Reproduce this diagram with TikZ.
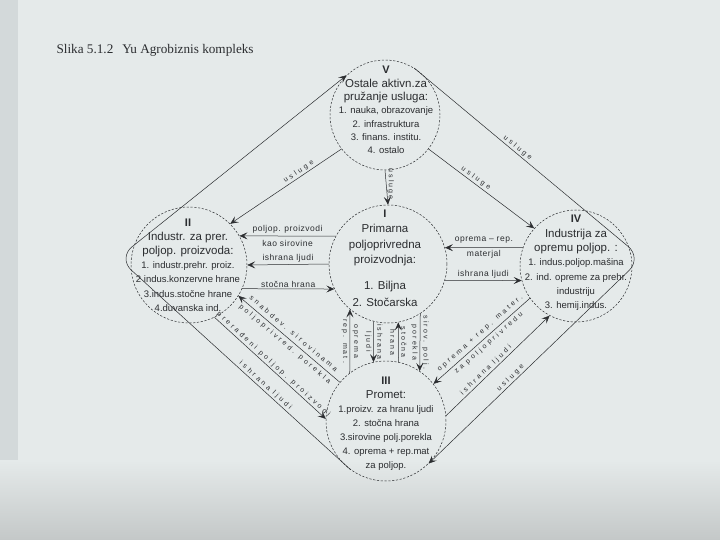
\documentclass[tikz,border=0pt]{standalone}
\usepackage{fontspec}
\setmainfont{Liberation Sans}
\newfontfamily\titlefont{Liberation Serif}
\newfontfamily\lblfont[LetterSpace=6]{Liberation Sans}
\newfontfamily\dfont[LetterSpace=40]{Liberation Sans}
\newfontfamily\vfont[LetterSpace=30]{Liberation Sans}
\newcommand\chead{\fontsize{11.5}{13}\selectfont}
\newcommand\rnum{\bfseries\fontsize{11}{13}\selectfont}
\usetikzlibrary{arrows.meta}
\definecolor{paper}{HTML}{E5EAEA}
\definecolor{paperdark}{HTML}{C4C8C8}
\definecolor{strip}{HTML}{D3D9DA}
\definecolor{ink}{HTML}{2B2D30}
\begin{document}
\begin{tikzpicture}[x=1pt,y=-1pt,
  circ/.style={circle, draw=ink, line width=0.5pt, dash pattern=on 2.2pt off 1.6pt, minimum size=#1, inner sep=0pt},
  conn/.style={draw=ink, line width=0.5pt},
  arr/.style={-{Stealth[length=8pt,width=7pt,inset=3.5pt]}},
  ctext/.style={align=center, text=ink, font=\fontsize{9.5}{#1}\selectfont, inner sep=0pt},
  hlbl/.style={text=ink, font=\lblfont\fontsize{8.5}{15}\selectfont, align=center, inner sep=1.5pt},
  dlbl/.style={text=ink, font=\dfont\fontsize{7}{13}\selectfont, align=center, sloped, inner sep=1.5pt},
  vlbl/.style={text=ink, font=\vfont\fontsize{7}{11}\selectfont, align=center, rotate=-90, inner sep=1pt},
]
\useasboundingbox (0,0) rectangle (720,540);
\fill[paper] (0,0) rectangle (720,540);
\fill[strip] (0,0) rectangle (18,540);
\shade[top color=paper, bottom color=paperdark] (0,460) rectangle (720,540);

\node[anchor=west, text=ink, font=\titlefont\fontsize{13.2}{15}\selectfont] (title) at (53,50) {Slika 5.1.2\hspace{9pt}Yu Agrobiznis kompleks};

% circles
\node[circ=110pt] (V) at (385,115) {};
\node[circ=116pt] (II) at (189,265) {};
\node[circ=118pt] (I) at (388,264) {};
\node[circ=112pt] (IV) at (576,266) {};
\node[circ=120pt] (III) at (386,421) {};

% circle texts
\node[ctext=13.3] (Vt) at (386,110) {{\rnum V}\\{\chead Ostale aktivn.za}\\{\chead pružanje usluga:}\\1. nauka, obrazovanje\\2. infrastruktura\\3. finans. institu.\\4. ostalo};
\node[ctext=14.2] (IIt) at (188,265) {{\rnum II}\\{\chead Industr. za prer.}\\{\chead poljop. proizvoda:}\\1. industr.prehr. proiz.\\2 indus.konzervne hrane\\3.indus.stočne hrane\\4.duvanska ind.};
\node[ctext=15.5] (It) at (385,258) {{\rnum I}\\{\chead Primarna}\\{\chead poljoprivredna}\\{\chead proizvodnja:}\\[10pt]{\chead 1. Biljna}\\[1.5pt]{\chead 2. Stočarska}};
\node[ctext=14.3] (IVt) at (576,263) {{\rnum IV}\\{\chead Industrija za}\\{\chead opremu poljop. :}\\1. indus.poljop.mašina\\2. ind. opreme za prehr.\\industriju\\3. hemij.indus.};
\node[ctext=14] (IIIt) at (386,424) {{\rnum III}\\{\chead Promet:}\\1.proizv. za hranu ljudi\\2. stočna hrana\\3.sirovine polj.porekla\\4. oprema + rep.mat\\za poljop.};

% V -> I
\draw[conn, arr] (V.-90) -- (I.90) node[vlbl, pos=0.4, anchor=south] {usluge};

% I <-> II
\draw[conn, arr] (I.152) -- (II.30) node[hlbl, midway] {poljop. proizvodi\\kao sirovine};
\draw[conn, arr] (I.180) -- (II.0) node[hlbl, midway, above] {ishrana ljudi};
\draw[conn, arr] (II.-24) -- (I.-155) node[hlbl, midway, above] {stočna hrana};

% I <-> IV
\draw[conn, arr] (IV.161) -- (I.16) node[hlbl, midway] {oprema – rep.\\materjal};
\draw[conn, arr] (I.-16) -- (IV.-165) node[hlbl, midway, above] {ishrana ljudi};

% inner V links
\draw[conn, arr] (V.-142) -- (II.45) node[dlbl, pos=0.36, above] {usluge};
\draw[conn, arr] (V.-38) -- (IV.138) node[dlbl, pos=0.42, above] {usluge};

% outer links
\coordinate (Lv) at (118,258);
\coordinate (Rv) at (642,258);
\draw[conn, arr, rounded corners=18pt] (III.-126) -- node[dlbl, pos=0.38, above] {ishrana ljudi} (Lv) -- (V.134);
\draw[conn, arr, rounded corners=18pt] (V.58) -- node[dlbl, pos=0.44, above] {usluge} (Rv) -- node[dlbl, pos=0.6, above] {usluge} (III.-45);

% II <-> III
\draw[conn, arr] (III.140) -- (II.-32) node[dlbl, midway] {snabdev. sirovinama\\poljoprivred. porekla};
\draw[conn, arr] (II.-64) -- (III.178) node[dlbl, pos=0.5, above] {prerađeni poljop. proizvodi};

% IV <-> III
\draw[conn, arr] (IV.-145) -- (III.38) node[dlbl, pos=0.47] {oprema + rep. mater.\\za poljoprivredu};
\draw[conn, arr] (III.5) -- (IV.-118) node[dlbl, pos=0.42, above] {ishrana ljudi};

% I <-> III
\draw[conn, arr] (III.127) -- (I.-130) node[vlbl, midway] {oprema\\rep. mat.};
\draw[conn, arr] (I.-104) -- (III.102) node[vlbl, midway] {ishrana\\ljudi};
\draw[conn, arr] (III.78) -- (I.-80) node[vlbl, midway] {stočna\\hrana};
\draw[conn, arr] (I.-57) -- (III.56) node[vlbl, midway] {sirov. polj.\\porekla};
\end{tikzpicture}
\end{document}
